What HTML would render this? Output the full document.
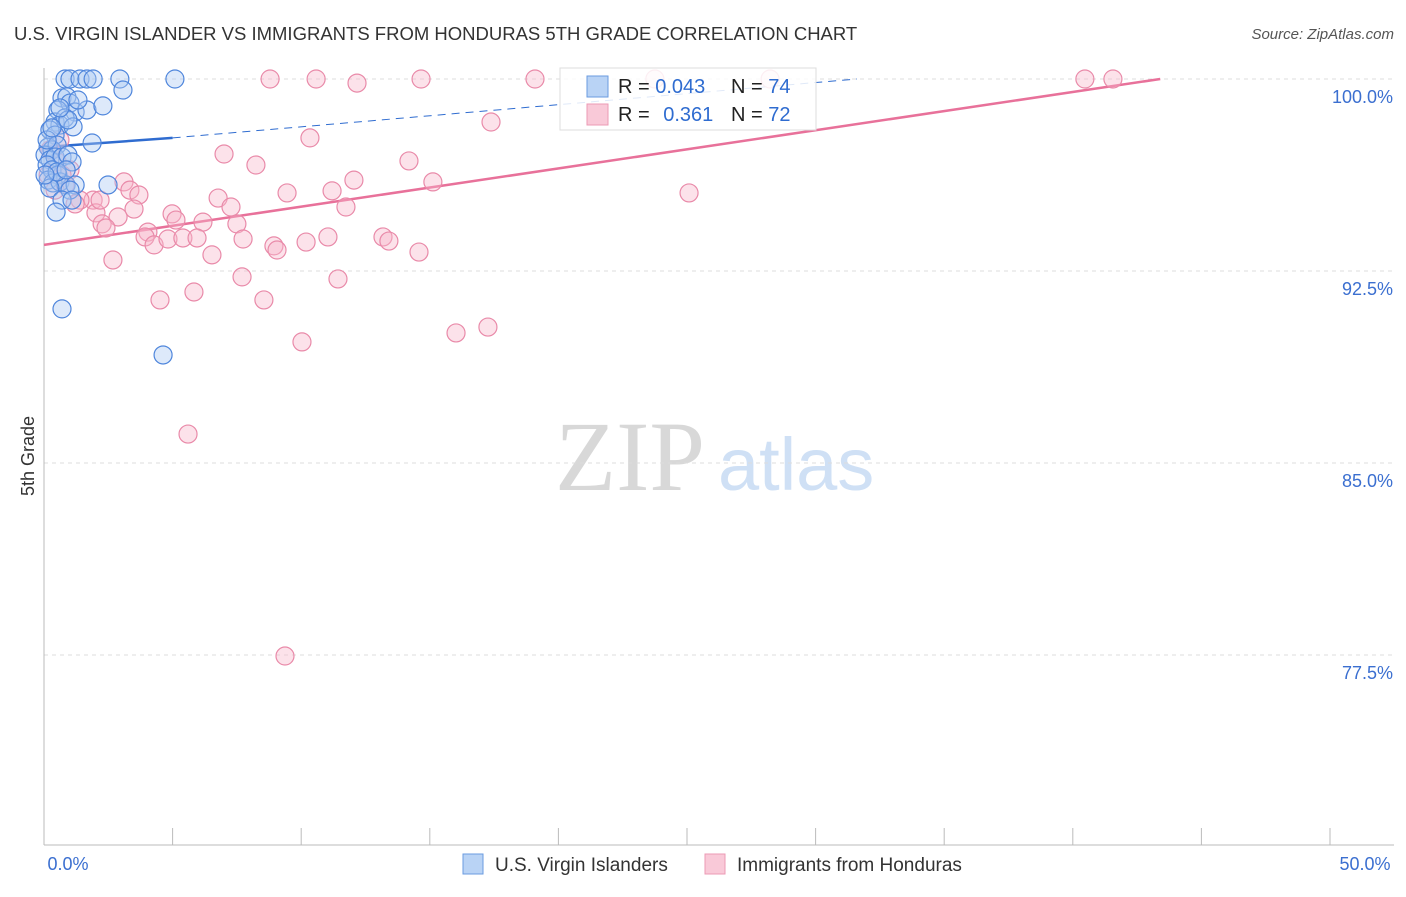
<!DOCTYPE html>
<html><head><meta charset="utf-8"><style>
body{margin:0;background:#fff;font-family:"Liberation Sans",sans-serif}
</style></head><body>
<svg id="chart" width="1406" height="892" viewBox="0 0 1406 892" xmlns="http://www.w3.org/2000/svg" font-family="Liberation Sans, sans-serif">
<text x="14" y="40" font-size="18.5" fill="#333">U.S. VIRGIN ISLANDER VS IMMIGRANTS FROM HONDURAS 5TH GRADE CORRELATION CHART</text>
<text x="1394" y="39" font-size="15" font-style="italic" fill="#555" text-anchor="end">Source: ZipAtlas.com</text>
<text transform="translate(34,456) rotate(-90)" font-size="18" fill="#333" text-anchor="middle">5th Grade</text>
<g>
<text x="555" y="490" font-size="100" style="font-family:'Liberation Serif',serif" fill="#d8d8d8">ZIP</text>
<text x="718" y="490" font-size="74" fill="#cfe0f5">atlas</text>
</g>
<g id="grid"></g><g id="axes"></g><g id="trend"></g><g id="pts"></g>
<g>
<rect x="560" y="68" width="256" height="62" fill="#fff" fill-opacity="0.85" stroke="#ddd"/>
<rect x="587" y="76" width="21" height="21" fill="#b9d3f5" stroke="#6a9be0"/>
<rect x="587" y="104" width="21" height="21" fill="#f9c9d8" stroke="#ec9ab4"/>
<text x="618" y="93" font-size="20" fill="#222">R = <tspan fill="#2f6cd0">0.043</tspan></text>
<text x="731" y="93" font-size="20" fill="#222">N = <tspan fill="#2f6cd0">74</tspan></text>
<text x="618" y="121" font-size="20" fill="#222">R = <tspan fill="#2f6cd0" dx="8">0.361</tspan></text>
<text x="731" y="121" font-size="20" fill="#222">N = <tspan fill="#2f6cd0">72</tspan></text>
</g>
<g>
<rect x="463" y="854" width="20" height="20" fill="#b9d3f5" stroke="#6a9be0"/>
<text x="495" y="871" font-size="19" fill="#333">U.S. Virgin Islanders</text>
<rect x="705" y="854" width="20" height="20" fill="#f9c9d8" stroke="#ec9ab4"/>
<text x="737" y="871" font-size="19" fill="#333">Immigrants from Honduras</text>
</g>
</svg>
<script>
const yTicks=[100,92.5,85,77.5];
const yTickLabels=["100.0%","92.5%","85.0%","77.5%"];
const xTickLabels=["0.0%","50.0%"];
const blueX=[0.82,1.01,1.40,1.67,1.91,2.95,5.09,3.07,0.70,0.89,1.01,0.54,1.21,1.67,2.29,1.32,0.43,0.62,0.82,1.13,0.23,0.43,1.87,0.16,0.31,0.51,0.04,0.23,0.43,0.70,0.93,1.09,0.12,0.31,0.54,0.16,0.35,0.62,0.86,1.21,2.49,0.23,1.01,0.70,1.09,0.47,0.70,4.63,0.12,0.31,0.93,0.62,0.51,0.04,0.86];
const blueY=[100,100,100,100,100,100,100,99.57,99.26,99.30,99.06,98.79,98.71,98.79,98.95,99.18,98.32,98.20,98.48,98.13,98.01,97.81,97.50,97.34,97.23,97.42,97.03,96.84,96.95,96.95,97.03,96.76,96.64,96.45,96.25,96.05,95.94,95.98,95.86,95.86,95.86,95.74,95.66,95.27,95.27,94.80,91.02,89.22,97.62,98.09,98.40,98.87,96.37,96.25,96.45];
const pinkX=[8.79,10.58,14.66,19.09,23.75,28.23,40.47,41.56,12.17,17.38,10.34,7.00,8.24,14.19,3.11,12.05,15.12,25.08,3.34,3.69,9.45,11.20,6.77,7.27,11.74,1.91,1.40,1.21,2.02,3.50,2.88,4.98,6.18,2.26,2.41,4.04,5.13,7.50,3.93,4.28,4.82,5.40,5.95,7.74,8.94,10.19,11.04,13.18,13.41,14.58,2.68,6.53,9.06,7.70,11.43,4.51,5.83,8.55,10.03,16.02,17.26,5.60,9.37,1.01,0.82,0.43,0.62,0.23,0.51,2.18,0.16,0.70];
const pinkY=[100,100,100,100,100,100,100,100,99.84,98.32,97.70,97.07,96.64,96.80,95.98,96.05,95.98,95.55,95.66,95.47,95.55,95.63,95.35,95.0,95.0,95.27,95.27,95.12,94.77,94.92,94.61,94.73,94.41,94.34,94.18,94.02,94.49,94.34,93.83,93.52,93.75,93.79,93.79,93.75,93.48,93.63,93.83,93.83,93.67,93.24,92.93,93.13,93.32,92.27,92.19,91.37,91.68,91.37,89.73,90.08,90.31,86.13,77.46,96.45,95.86,95.66,97.62,97.23,96.76,95.27,96.25,96.25];
const blueTrend=[[0,97.34],[5,97.70]];
const blueTrendDash=[[5,97.70],[31.6,100]];
const pinkTrend=[[0,93.52],[43.4,100]];
const NS="http://www.w3.org/2000/svg";
const X=v=>44+v*1286/50, Y=v=>79+(100-v)*25.6;
function mk(tag,attrs,parent){const e=document.createElementNS(NS,tag);for(const k in attrs)e.setAttribute(k,attrs[k]);document.getElementById(parent).appendChild(e);return e;}
yTicks.forEach((t,i)=>{
 const g=mk('line',{x1:44,x2:1394,y1:Y(t),y2:Y(t),stroke:'#ddd','stroke-dasharray':'4,4'},'grid');
 
 
 const l=mk('text',{x:1393,y:Y(t)+24,'font-size':18,fill:'#3b6fd0','text-anchor':'end'},'grid');
 l.textContent=yTickLabels[i];
 
 
});
const xa=mk('line',{x1:44,x2:1394,y1:845,y2:845,stroke:'#bbb'},'axes');


const ya=mk('line',{x1:44,x2:44,y1:68,y2:845,stroke:'#bbb'},'axes');


for(let i=0;i<=10;i++){const t=mk('line',{x1:X(i*5),x2:X(i*5),y1:828,y2:845,stroke:'#bbb'},'axes');
 
 }
[[0,68],[50,1365]].forEach((p,i)=>{const t=mk('text',{x:p[1],y:870,'font-size':18,fill:'#3b6fd0','text-anchor':'middle'},'axes');t.textContent=xTickLabels[i];
 
 });
function dot(x,y,fill,stroke,name){const c=mk('circle',{cx:X(x),cy:Y(y),r:9,fill:fill,'fill-opacity':0.4,stroke:stroke,'stroke-width':1.2},'pts');
 
 }
pinkX.forEach((x,i)=>dot(x,pinkY[i],'#f7b6cb','#e98aa9','point-honduras'));
blueX.forEach((x,i)=>dot(x,blueY[i],'#a9c8f2','#4f86dc','point-virgin-islanders'));
let t1=mk('line',{x1:X(blueTrend[0][0]),y1:Y(blueTrend[0][1]),x2:X(blueTrend[1][0]),y2:Y(blueTrend[1][1]),stroke:'#2f6cd0','stroke-width':2.5},'trend');


let t2=mk('line',{x1:X(blueTrendDash[0][0]),y1:Y(blueTrendDash[0][1]),x2:X(blueTrendDash[1][0]),y2:Y(blueTrendDash[1][1]),stroke:'#2f6cd0','stroke-width':1,'stroke-dasharray':'8,6'},'trend');


let t3=mk('line',{x1:X(pinkTrend[0][0]),y1:Y(pinkTrend[0][1]),x2:X(pinkTrend[1][0]),y2:Y(pinkTrend[1][1]),stroke:'#e8719a','stroke-width':2.5},'trend');


</script>
</body></html>
